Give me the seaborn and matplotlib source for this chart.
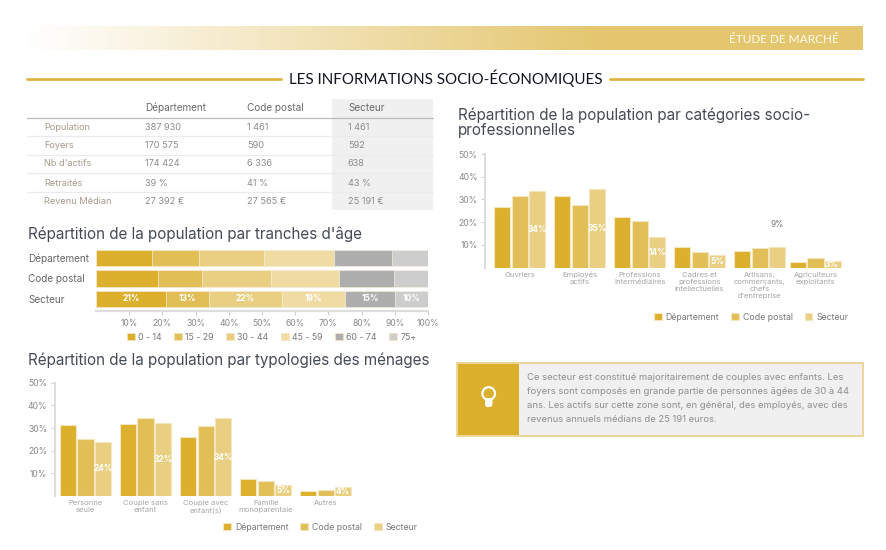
import numpy as np
import pandas as pd
import seaborn as sns
import matplotlib.pyplot as plt
from matplotlib.colors import LinearSegmentedColormap
from matplotlib.patches import Rectangle, Circle, FancyBboxPatch, Patch

# --- donnees ---
table_cols = ['Département', 'Code postal', 'Secteur']
table_rows = ['Population', 'Foyers', "Nb d'actifs", 'Retraités', 'Revenu Médian']
table_dept = ['387 930', '170 575', '174 424', '39 %', '27 392 €']
table_cp = ['1 461', '590', '6 336', '41 %', '27 565 €']
table_sect = ['1 461', '592', '638', '43 %', '25 191 €']

age_groups = ['0 - 14', '15 - 29', '30 - 44', '45 - 59', '60 - 74', '75+']
age_places = ['Département', 'Code postal', 'Secteur']
age_dept = [16.9, 14.2, 19.4, 21.3, 17.3, 10.9]
age_cp = [18.8, 13.0, 21.0, 20.3, 16.6, 10.3]
age_sect = [21, 13, 22, 19, 15, 10]

menage_cats = ['Personne\nseule', 'Couple sans\nenfant', 'Couple avec\nenfant(s)', 'Famille\nmonoparentale', 'Autres']
menage_dept = [31.5, 31.8, 26.2, 7.5, 2.2]
menage_cp = [25.3, 34.3, 30.7, 6.8, 2.5]
menage_sect = [24, 32.2, 34.3, 4.7, 4]
menage_labels = ['24%', '32%', '34%', '5%', '4%']

csp_cats = ['Ouvriers', 'Employés\nactifs', 'Professions\nIntermédiaires', 'Cadres et\nprofessions\nintellectuelles',
            'Artisans,\ncommerçants,\nchefs\nd\'entreprise', 'Agriculteurs\nexploitants']
csp_dept = [26.7, 31.4, 22.4, 8.9, 7.5, 2.5]
csp_cp = [31.4, 27.4, 20.7, 7.0, 8.5, 4.1]
csp_sect = [33.9, 34.6, 13.5, 5.4, 9.2, 2.8]
csp_labels = ['34%', '35%', '14%', '5%', '', '3%']

note_lines = ['Ce secteur est constitué majoritairement de couples avec enfants. Les',
              'foyers sont composés en grande partie de personnes âgées de 30 à 44',
              'ans. Les actifs sur cette zone sont, en général, des employés, avec des',
              'revenus annuels médians de 25 191 euros.']

sns.set_theme(style='white')
plt.rcParams['font.family'] = ['Inter', 'DejaVu Sans']

W, H = 886, 550
GOLD = ['#DCB02C', '#E2BE57', '#E9CF82']
AGE_COLORS = GOLD + ['#F0DCA3', '#AEAEAE', '#CDCDCD']
EDGE = '#F4E6BE'
GREY_AXIS = '#DDDDDD'

fig = plt.figure(figsize=(W / 100, H / 100), dpi=100, facecolor='white')


def px_axes(left, top, right, bottom):
    a = fig.add_axes([left / W, 1 - bottom / H, (right - left) / W, (bottom - top) / H])
    a.patch.set_alpha(0)
    return a


# fond en coordonnees pixels
bg = fig.add_axes([0, 0, 1, 1], zorder=0)
bg.set_xlim(0, W)
bg.set_ylim(H, 0)
bg.axis('off')

# bandeau
cmap = LinearSegmentedColormap.from_list('band', ['#FFFFFF', '#E4C66E'], N=1024)
grad = np.clip(np.linspace(0, 1.45, 836), 0, 1)[None, :]
bg.imshow(grad, cmap=cmap, vmin=0, vmax=1, extent=(27, 863, 50.5, 27), aspect='auto')
bg.set_xlim(0, W)
bg.set_ylim(H, 0)
bg.text(839, 39.5, 'ÉTUDE DE MARCHÉ', color='#FFF8E6', fontsize=8.6, fontweight='medium',
        family='Lato', ha='right', va='center')

# titre de section
bg.plot([27, 281], [79, 79], color='#DFB63F', lw=2)
bg.plot([610, 863], [79, 79], color='#DFB63F', lw=2)
bg.text(445.5, 78.5, 'LES INFORMATIONS SOCIO-ÉCONOMIQUES', color='#10141F', fontsize=10.9,
        family='Lato', ha='center', va='center')

# tableau
bg.add_patch(Rectangle((332, 99), 101, 111, color='#F0F0F0', lw=0))
col_x = [145, 247, 348]
for x, name in zip(col_x, table_cols):
    bg.text(x, 108, name, color='#6A6A6A', fontsize=7.2, va='center')
bg.plot([27, 433], [117.5, 117.5], color='#BBBBBB', lw=0.9)
row_y = [127, 146, 164, 183, 202]
for y in [136, 154.5, 173, 192]:
    bg.plot([27, 433], [y, y], color='#EBEBEB', lw=0.9)
for i, y in enumerate(row_y):
    bg.text(44, y, table_rows[i], color='#A39B8B', fontsize=6.6, va='center')
    for x, col in zip(col_x, [table_dept, table_cp, table_sect]):
        bg.text(x, y, col[i], color='#8C8C8C', fontsize=6.6, va='center')

# titres des graphiques
TITLE = dict(color='#454B54', fontsize=10.95, va='center')
bg.text(28, 234, "Répartition de la population par tranches d'âge", **TITLE)
bg.text(28, 360, 'Répartition de la population par typologies des ménages', **TITLE)
bg.text(458, 115, 'Répartition de la population par catégories socio-', **TITLE)
bg.text(458, 131, 'professionnelles', **TITLE)

# encadre
bg.add_patch(Rectangle((457, 362.5), 406, 73.5, facecolor='#F0F0F0', edgecolor='#E8CE82', lw=1.1))
bg.add_patch(Rectangle((458, 363.5), 61, 71.5, color='#DCB02C', lw=0))
bg.add_patch(Circle((488.7, 393.5), 6.3, facecolor='none', edgecolor='white', lw=1.6))
bg.add_patch(FancyBboxPatch((485, 398), 7.4, 9, boxstyle='round,pad=0,rounding_size=2.5', color='white', lw=0))
for i, line in enumerate(note_lines):
    bg.text(527, 378 + i * 14, line, color='#8F8F8F', fontsize=6.84, va='center')

# --- tranches d'age ---
ax_age = px_axes(96, 247.8, 428, 311)
age_values = np.array([age_dept, age_cp, age_sect])
age_cum = age_values.cumsum(axis=1)
for i in range(len(age_groups) - 1, -1, -1):
    sns.barplot(x=age_cum[:, i], y=age_places, color=AGE_COLORS[i], saturation=1, width=0.8,
                edgecolor='#F5EFDF', linewidth=0.5, orient='h', ax=ax_age)
ax_age.set_xlim(0, 100)
ax_age.set_ylim(2.6, -0.5)
sns.despine(ax=ax_age, left=True, top=True, right=True)
ax_age.spines['bottom'].set_color(GREY_AXIS)
ax_age.spines['bottom'].set_linewidth(1.6)
ax_age.set_xticks(range(10, 101, 10))
ax_age.set_xticklabels([f'{v}%' for v in range(10, 101, 10)], fontsize=6.2, color='#888888')
ax_age.tick_params(axis='x', length=3, width=0.7, color='#CCCCCC', pad=2.5, bottom=True)
ax_age.tick_params(axis='y', length=0, pad=49)
for lab in ax_age.get_yticklabels():
    lab.set_ha('left')
    lab.set_color('#666666')
    lab.set_fontsize(7.2)
ax_age.set_xlabel('')
ax_age.set_ylabel('')
for i, val in enumerate(age_sect):
    ax_age.text(age_cum[2, i] - val / 2, 2, f'{val}%', color='white', fontsize=6, fontweight='bold',
                ha='center', va='center')
fig.legend(handles=[Patch(facecolor=c, edgecolor=EDGE, lw=0.5, label=l) for c, l in zip(AGE_COLORS, age_groups)],
           loc='center', bbox_to_anchor=(271.5 / W, 1 - 337 / H), ncol=6, frameon=False, fontsize=6.3,
           handlelength=0.9, handleheight=0.9, handletextpad=0.35, columnspacing=1.45, labelcolor='#777777')


# --- graphiques groupes ---
def grouped(ax, cats, dept, cp, sect, labels, x0, x1, legend_at):
    df = pd.DataFrame({
        'cat': cats * 3,
        'val': dept + cp + sect,
        'serie': sum([[s] * len(cats) for s in table_cols], []),
    })
    sns.barplot(data=df, x='cat', y='val', hue='serie', palette=GOLD, saturation=1, width=0.87, gap=0.06,
                edgecolor=EDGE, linewidth=0.8, ax=ax)
    ax.set_xlim(x0, x1)
    ax.set_ylim(0, 50)
    sns.despine(ax=ax, top=True, right=True, bottom=True)
    ax.spines['left'].set_color(GREY_AXIS)
    ax.spines['left'].set_linewidth(1.4)
    ax.set_yticks([10, 20, 30, 40, 50])
    ax.set_yticklabels(['10%', '20%', '30%', '40%', '50%'], fontsize=6.2, color='#888888')
    ax.tick_params(axis='y', left=True, length=3, width=0.7, color='#CCCCCC', pad=2.5)
    ax.tick_params(axis='x', length=0, pad=3)
    plt.setp(ax.get_xticklabels(), fontsize=5.5, color='#A5A5A5', linespacing=1.2)
    ax.set_xlabel('')
    ax.set_ylabel('')
    ax.bar_label(ax.containers[-1], labels=labels, label_type='center', color='white', fontsize=6,
                 fontweight='bold')
    sns.move_legend(ax, 'center', bbox_to_anchor=(legend_at[0] / W, 1 - legend_at[1] / H),
                    bbox_transform=fig.transFigure, ncol=3, frameon=False, title=None, fontsize=6.3,
                    handlelength=0.9, handleheight=0.9, handletextpad=0.45, columnspacing=1.35,
                    labelcolor='#777777')


ax_men = px_axes(55, 382.7, 355.7, 496)
grouped(ax_men, menage_cats, menage_dept, menage_cp, menage_sect, menage_labels, -0.511, 4.5, (320.5, 527))

ax_csp = px_axes(485.3, 154, 849.7, 267.7)
grouped(ax_csp, csp_cats, csp_dept, csp_cp, csp_sect, csp_labels, -0.573, 5.5, (751, 317))

# le dernier groupe est un peu plus pres du precedent
SHIFT = -0.07
for cont in ax_csp.containers:
    p = cont.patches[-1]
    p.set_x(p.get_x() + SHIFT)
for t in ax_csp.texts:
    if t.get_text() == '3%':
        t.xy = (t.xy[0] + SHIFT, t.xy[1])
ax_csp.set_xticks(np.arange(len(csp_cats)) + np.array([0, 0, 0, 0, 0, SHIFT]))
ax_csp.set_xticklabels(csp_cats)

# le 9% du secteur est affiche au-dessus de la barre
p9 = ax_csp.containers[-1].patches[4]
ax_csp.text(p9.get_x() + p9.get_width() / 2, p9.get_height() * 2.07, '9%', color='#777777', fontsize=6,
            ha='center', va='center')

fig.savefig('out.png', dpi=100)
